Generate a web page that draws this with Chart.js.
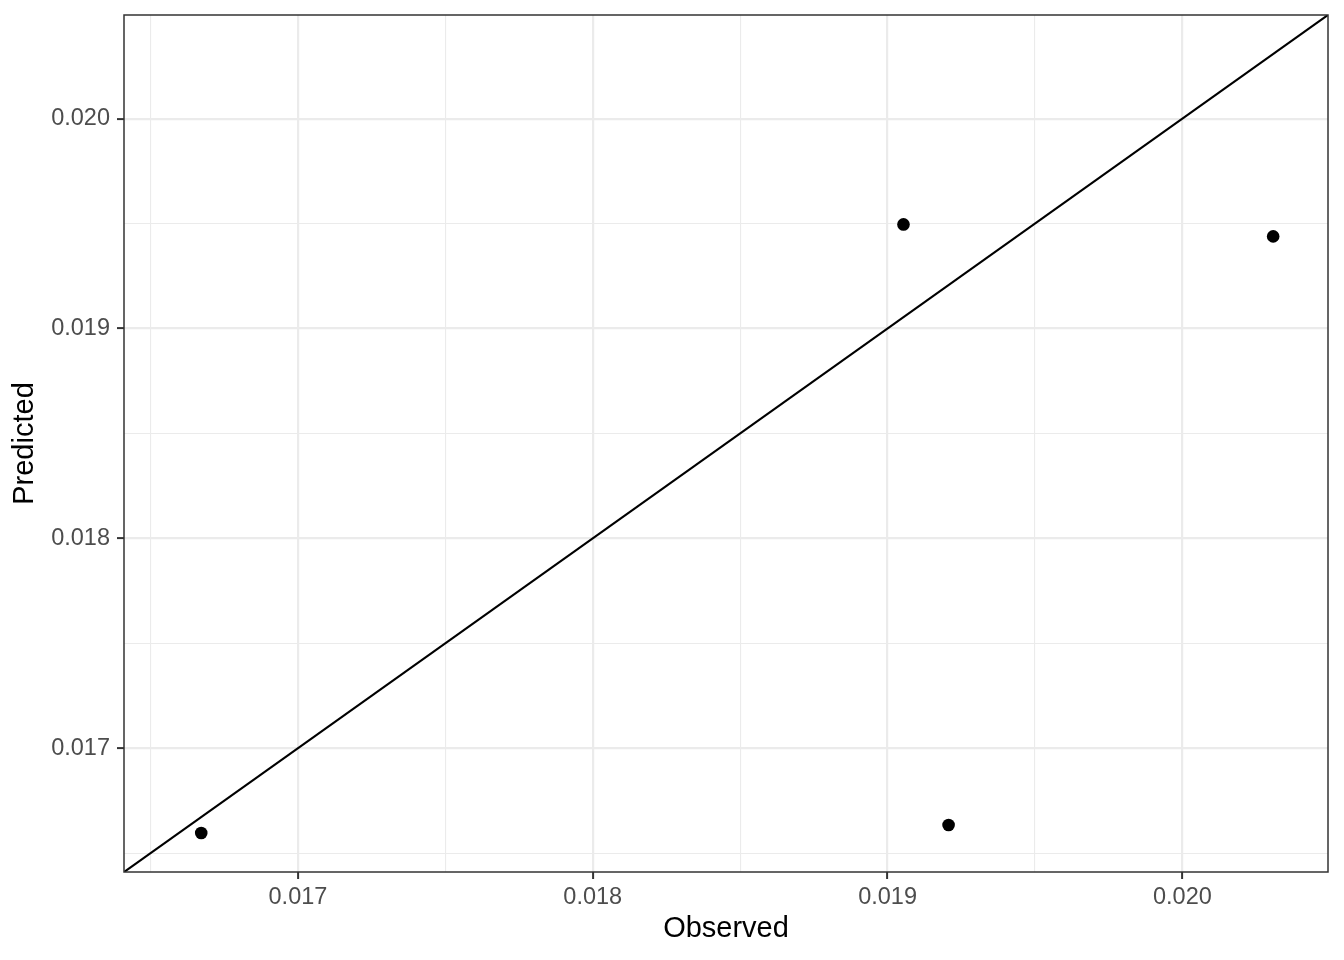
<!DOCTYPE html>
<html>
<head>
<meta charset="utf-8">
<script src="https://cdn.jsdelivr.net/npm/chart.js@4.4.1/dist/chart.umd.min.js"></script>
<style>
    html, body { margin: 0; padding: 0; background: #fff; }
    #wrap { width: 1344px; height: 960px; }
</style>
</head>
<body>
<div id="wrap"><canvas id="obsPred"></canvas></div>
<script>
// observed vs predicted values
var observed = [0.016672, 0.019054, 0.019207, 0.020308];
var predicted = [0.016596, 0.019496, 0.016634, 0.019439];

// same limits on both axes (ggplot-like 5% expansion of the combined range)
var axisMin = 0.01641;
var axisMax = 0.020494;

var majorTicks = [0.017, 0.018, 0.019, 0.020];
var minorTicks = [0.0165, 0.0175, 0.0185, 0.0195];
var tickLabels = ['0.017', '0.018', '0.019', '0.020'];

function isMajor(v) {
    return majorTicks.some(m => Math.abs(m - v) < 1e-9);
}

function setTicks(scale) {
    var all = majorTicks.concat(minorTicks).sort((a, b) => a - b);
    scale.ticks = all.map(v => ({ value: v }));
}

function labelFor(v) {
    var i = majorTicks.findIndex(m => Math.abs(m - v) < 1e-9);
    return i >= 0 ? tickLabels[i] : '';
}

var panelBorder = {
    id: 'panelBorder',
    afterDraw: function (chart) {
        var a = chart.chartArea;
        var ctx = chart.ctx;
        ctx.save();
        ctx.strokeStyle = '#333333';
        ctx.lineWidth = 1.5;
        ctx.strokeRect(a.left, a.top, a.right - a.left, a.bottom - a.top);
        ctx.restore();
    }
};

function axisOpts(title, isX) {
    return {
        type: 'linear',
        min: axisMin,
        max: axisMax,
        afterBuildTicks: setTicks,
        afterFit: function (scale) {
            if (isX) {
                scale.height = 88;
            } else {
                scale.width = 124;
                scale.paddingTop = 0;
                scale.paddingBottom = 0;
            }
        },
        border: { display: false },
        grid: {
            color: '#EBEBEB',
            lineWidth: ctx => isMajor(ctx.tick.value) ? 2.2 : 1.1,
            drawTicks: true,
            tickLength: 7,
            tickWidth: 2,
            tickColor: ctx => isMajor(ctx.tick.value) ? '#333333' : 'rgba(0,0,0,0)'
        },
        ticks: {
            color: '#4D4D4D',
            padding: isX ? 4 : 7,
            maxRotation: 0,
            autoSkip: false,
            font: { family: 'Liberation Sans, Arial, sans-serif', size: 23.5 },
            callback: function (v) { return labelFor(v); }
        },
        title: {
            display: true,
            text: title,
            color: '#000000',
            font: { family: 'Liberation Sans, Arial, sans-serif', size: 29 },
            padding: isX ? { top: 0, bottom: 14 } : { top: 8, bottom: 0 }
        }
    };
}

var ctx = document.getElementById('obsPred').getContext('2d');
var chart = new Chart(ctx, {
    type: 'scatter',
    data: {
        datasets: [
            {
                type: 'line',
                label: 'identity',
                data: [{ x: axisMin, y: axisMin }, { x: axisMax, y: axisMax }],
                borderColor: '#000000',
                borderWidth: 2.2,
                pointRadius: 0,
                fill: false
            },
            {
                type: 'scatter',
                label: 'points',
                data: observed.map((o, i) => ({ x: o, y: predicted[i] })),
                backgroundColor: '#000000',
                borderWidth: 0,
                pointRadius: 6.3
            }
        ]
    },
    options: {
        responsive: true,
        maintainAspectRatio: false,
        animation: false,
        layout: { padding: { left: 0, top: 15, right: 16, bottom: 0 } },
        plugins: {
            legend: { display: false },
            tooltip: { enabled: false }
        },
        scales: {
            x: axisOpts('Observed', true),
            y: axisOpts('Predicted', false)
        }
    },
    plugins: [panelBorder]
});
</script>
</body>
</html>
